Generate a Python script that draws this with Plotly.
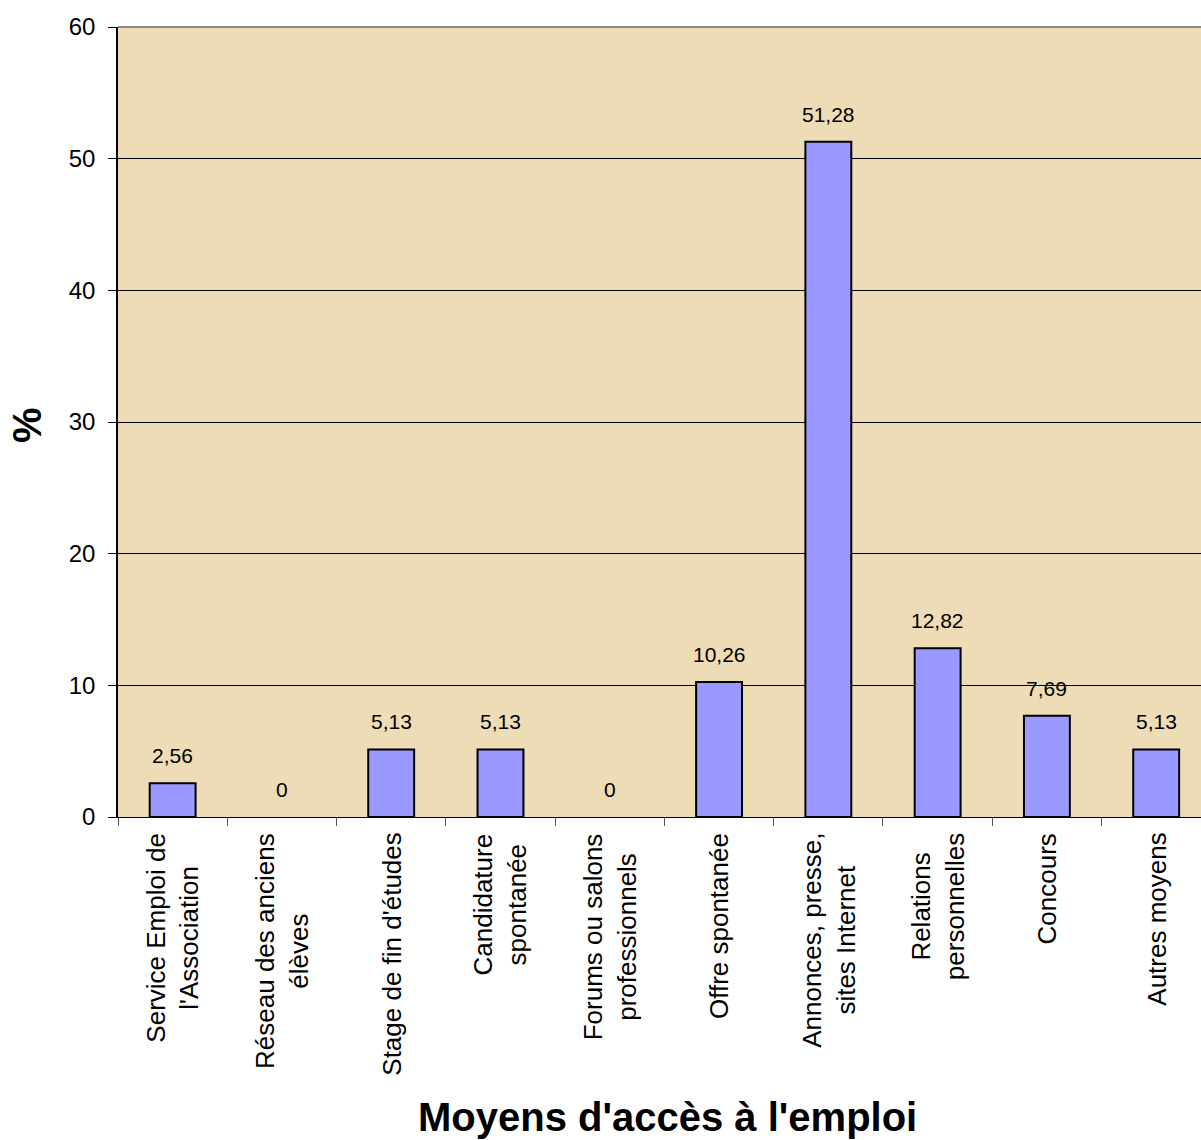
import plotly.graph_objects as go

categories = [
    "Service Emploi de<br>l'Association",
    "Réseau des anciens<br>élèves",
    "Stage de fin d'études",
    "Candidature<br>spontanée",
    "Forums ou salons<br>professionnels",
    "Offre spontanée",
    "Annonces, presse,<br>sites Internet",
    "Relations<br>personnelles",
    "Concours",
    "Autres moyens",
]
values = [2.56, 0, 5.13, 5.13, 0, 10.26, 51.28, 12.82, 7.69, 5.13]
value_labels = ["2,56", "0", "5,13", "5,13", "0", "10,26", "51,28", "12,82", "7,69", "5,13"]
y_ticks = [0, 10, 20, 30, 40, 50, 60]

font_family = "Liberation Sans, Arial, sans-serif"

fig = go.Figure()
fig.add_trace(go.Bar(
    x=categories,
    y=values,
    width=0.42,
    marker=dict(color="#9999FF",
                line=dict(color="black", width=[2 if v > 0 else 0 for v in values])),
    hoverinfo="skip",
))

# data labels
for c, v, t in zip(categories, values, value_labels):
    fig.add_annotation(
        x=c, y=v, text=t, showarrow=False,
        yanchor="bottom", yshift=14,
        font=dict(family=font_family, size=21, color="black"),
    )

# x category labels (rotated, centred lines)
for c in categories:
    fig.add_annotation(
        x=c, y=0, xref="x", yref="paper", text=c, showarrow=False,
        textangle=-90, align="center", yanchor="top", xanchor="center",
        yshift=-14,
        font=dict(family=font_family, size=26, color="black"),
    )

# axis titles
fig.add_annotation(
    x=0.5, y=0, xref="paper", yref="paper", text="<b>Moyens d'accès à l'emploi</b>",
    showarrow=False, yanchor="middle", xanchor="center", yshift=-300, xshift=8,
    font=dict(family=font_family, size=40, color="black"),
)
fig.add_annotation(
    x=0, y=0.5, xref="paper", yref="paper", text="<b>%</b>",
    showarrow=False, textangle=-90, xanchor="center", yanchor="middle",
    xshift=-91, yshift=-3,
    font=dict(family=font_family, size=40, color="black"),
)

fig.update_layout(
    width=1201, height=1140,
    margin=dict(l=118, r=0, t=27, b=323),
    paper_bgcolor="white",
    plot_bgcolor="#EDDCB6",
    showlegend=False,
    font=dict(family=font_family, color="black"),
)

fig.update_xaxes(
    range=[-0.5, 9.41],
    showticklabels=False,
    ticks="outside", ticklen=8, tickcolor="#555555",
    tickson="boundaries",
    showline=True, linecolor="black", linewidth=1,
    showgrid=False,
)
fig.update_yaxes(
    range=[0, 60],
    tickvals=y_ticks,
    tickfont=dict(size=24, family=font_family),
    ticks="outside", ticklen=8, tickcolor="black",
    ticklabelstandoff=8,
    showline=True, linecolor="black", linewidth=1.5,
    showgrid=True, gridcolor="black", gridwidth=1,
    zeroline=False,
)
fig.add_shape(type="line", xref="paper", yref="paper", x0=0, x1=1, y0=1, y1=1,
              line=dict(color="#888888", width=2))

fig.write_html(
    "out.html",
    config={"displayModeBar": False},
    post_script="document.body.style.margin='0';document.body.style.overflow='hidden';",
)
